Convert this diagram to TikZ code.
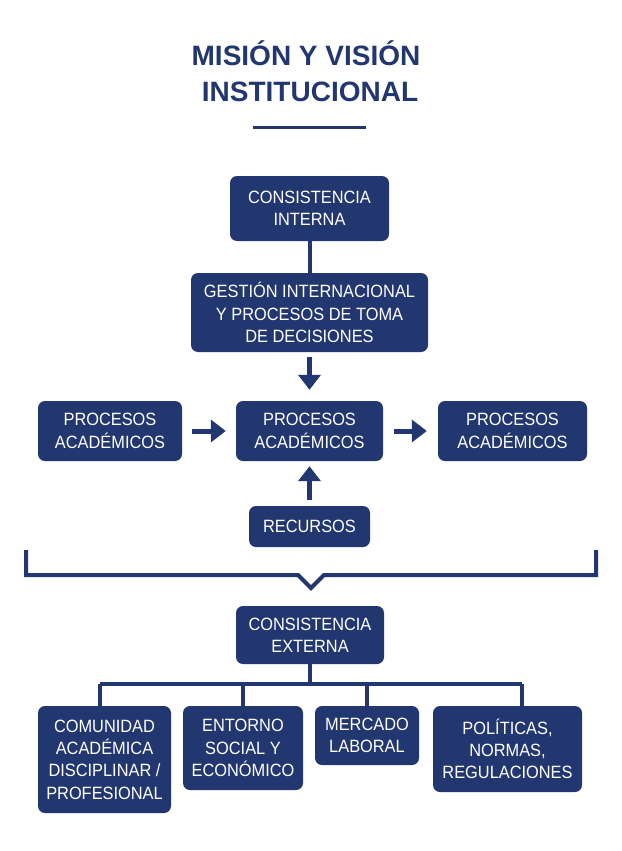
\documentclass[tikz,border=0pt]{standalone}
\usepackage{fontspec}
\setmainfont{Liberation Sans}
\newfontfamily\boxfont{Liberation Sans}[FakeStretch=0.92]
\usetikzlibrary{arrows.meta}
\definecolor{navy}{RGB}{34,54,112}
\begin{document}
\begin{tikzpicture}[x=1pt,y=-1pt,
  box/.style={fill=navy,text=white,rounded corners=7pt,align=center,inner sep=0pt,
    font=\boxfont\fontsize{17.8}{22.3}\selectfont},
  link/.style={draw=navy,line width=4pt},
  bigarrow/.style={draw=navy,line width=5pt,-{Triangle[width=22pt,length=15pt]}},
  titletext/.style={text=navy,font=\fontsize{28}{35}\selectfont\bfseries,anchor=base,inner sep=0pt}]
\useasboundingbox (0,0) rectangle (621,851);
\fill[white] (0,0) rectangle (621,851);
% title
\node[titletext] (t1) at (306,66) {MISIÓN Y VISIÓN};
\node[titletext] (t2) at (310,101) {INSTITUCIONAL};
\coordinate (ul1) at (253,127);
\coordinate (ul2) at (366,127);
\draw[navy,line width=3pt] (ul1) -- (ul2);
% boxes
\node[box,minimum width=159pt,minimum height=65pt] (ci) at (309.5,208.5) {CONSISTENCIA\\INTERNA};
\node[box,minimum width=237pt,minimum height=79pt] (gest) at (309.5,312.5) {GESTIÓN INTERNACIONAL\\Y PROCESOS DE TOMA\\DE DECISIONES};
\node[box,minimum width=144pt,minimum height=60pt] (pl) at (110,431) {PROCESOS\\ACADÉMICOS};
\node[box,minimum width=147pt,minimum height=60pt] (pc) at (309.5,431) {PROCESOS\\ACADÉMICOS};
\node[box,minimum width=149pt,minimum height=60pt] (pr) at (512.5,431) {PROCESOS\\ACADÉMICOS};
\node[box,minimum width=121pt,minimum height=41pt] (rec) at (309.5,526.5) {RECURSOS};
\node[box,minimum width=148pt,minimum height=58pt] (ce) at (310,635) {CONSISTENCIA\\EXTERNA};
\node[box,minimum width=133pt,minimum height=107pt] (b1) at (104.5,759.5) {COMUNIDAD\\ACADÉMICA\\DISCIPLINAR /\\PROFESIONAL};
\node[box,minimum width=120pt,minimum height=84pt] (b2) at (243,748) {ENTORNO\\SOCIAL Y\\ECONÓMICO};
\node[box,minimum width=104pt,minimum height=59pt] (b3) at (367,735.5) {MERCADO\\LABORAL};
\node[box,minimum width=149pt,minimum height=86pt] (b4) at (507.5,749) {POLÍTICAS,\\NORMAS,\\REGULACIONES};
% connectors
\draw[link] (ci.south) -- (gest.north);
\draw[bigarrow,shorten <=5pt,shorten >=11pt] (gest.south) -- (pc.north);
\draw[bigarrow,shorten <=10pt,shorten >=10pt] (pl.east) -- (pc.west);
\draw[bigarrow,shorten <=11pt,shorten >=11pt] (pc.east) -- (pr.west);
\draw[bigarrow,shorten <=6pt,shorten >=5pt] (rec.north) -- (pc.south);
% bracket
\coordinate (brl) at (26,550);
\coordinate (brr) at (596,550);
\coordinate (tip) at (311,588);
\draw[navy,line width=4pt] (brl) -- (26,575) -- (298,575) -- (tip) -- (324,575) -- (596,575) -- (brr);
% tree
\coordinate (j) at (310,684);
\draw[link] (ce.south) -- (j);
\draw[link] (100,684) -- (522,684);
\draw[link] (100,684) -- ([xshift=-4.5pt]b1.north);
\draw[link] (243,684) -- (b2.north);
\draw[link] (367,684) -- (b3.north);
\draw[link] (522,684) -- ([xshift=14.5pt]b4.north);
\end{tikzpicture}
\end{document}
